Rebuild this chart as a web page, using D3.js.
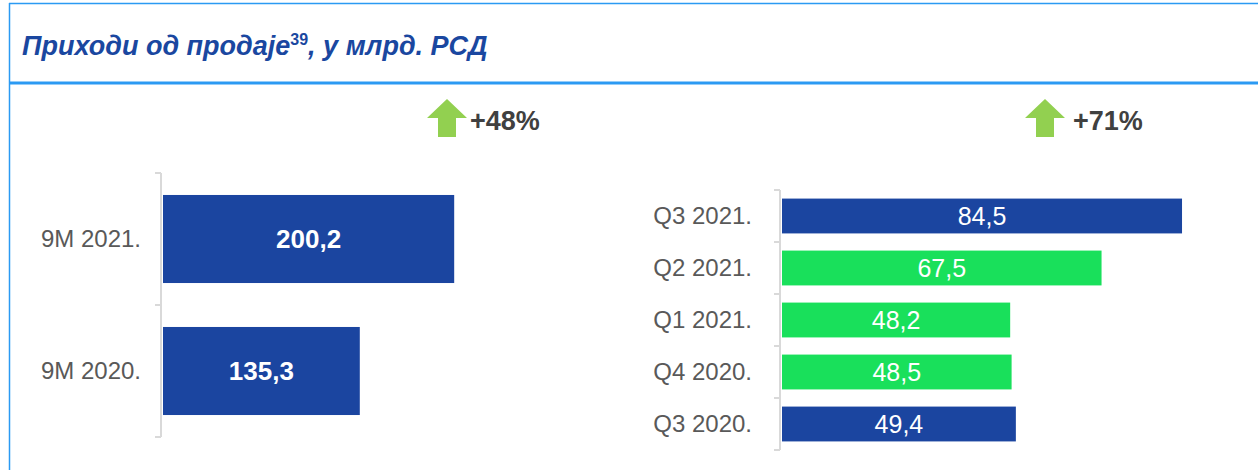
<!DOCTYPE html>
<html>
<head>
<meta charset="utf-8">
<script src="https://cdn.jsdelivr.net/npm/d3@7"></script>
<style>
  body { margin: 0; background: #fff; }
  svg { display: block; font-family: "Liberation Sans", Arial, sans-serif; }
</style>
</head>
<body>
<svg id="chart" width="1258" height="470"></svg>
<script>
// podaci
const titleMain = "Приходи од продаје";
const titleSup = "39";
const titleRest = ", у млрд. РСД";

const ytdCats = ["9M 2021.", "9M 2020."];
const ytdValues = [200.2, 135.3];
const ytdGrowth = "+48%";

const qCats = ["Q3 2021.", "Q2 2021.", "Q1 2021.", "Q4 2020.", "Q3 2020."];
const qValues = [84.5, 67.5, 48.2, 48.5, 49.4];
const qHighlight = [true, false, false, false, true];
const qGrowth = "+71%";

const BLUE = "#1b45a0";
const GREEN = "#19e05b";
const ARROW = "#92d050";
const FRAME = "#2b9af3";
const fmt = v => String(v).replace(".", ",");

const svg = d3.select("#chart");

// okvir
svg.append("line").attr("x1", 9).attr("x2", 1258).attr("y1", 3.5).attr("y2", 3.5)
  .attr("stroke", FRAME).attr("stroke-width", 1.5);
svg.append("line").attr("x1", 9.5).attr("x2", 9.5).attr("y1", 3).attr("y2", 470)
  .attr("stroke", FRAME).attr("stroke-width", 1.5);
svg.append("line").attr("x1", 9).attr("x2", 1258).attr("y1", 83).attr("y2", 83)
  .attr("stroke", FRAME).attr("stroke-width", 3);

// naslov
const title = svg.append("text")
  .attr("x", 22).attr("y", 55)
  .attr("fill", "#1a47a0")
  .style("font-size", "27px").style("font-weight", "bold").style("font-style", "italic");
title.append("tspan").text(titleMain);
title.append("tspan").attr("dy", -10).style("font-size", "16px").style("font-style", "normal").text(titleSup);
title.append("tspan").attr("dy", 10).text(titleRest);

// strelica + procenat
function growthBadge(x, y, label, tx) {
  const g = svg.append("g").attr("transform", `translate(${x},${y})`);
  g.append("path")
    .attr("d", "M0,19 L20,0 L40,19 L29,19 L29,38 L11,38 L11,19 Z")
    .attr("fill", ARROW);
  g.append("text").attr("x", tx).attr("y", 31)
    .attr("fill", "#404040")
    .style("font-size", "27px").style("font-weight", "bold")
    .text(label);
}

// horizontalni bar chart
function barChart(opts) {
  const { cats, values, colors, x0, top, bottom, k, labelSize, valueSize, valueWeight, padding, labelX } = opts;
  const y = d3.scaleBand().domain(cats).range([top, bottom]).paddingInner(padding).paddingOuter(padding / 2);
  const x = d3.scaleLinear().domain([0, 1]).range([x0 + 2, x0 + 2 + k]);
  const g = svg.append("g");

  // osa sa tickovima izmedju kategorija
  const edges = d3.range(cats.length + 1).map(i => top + i * (bottom - top) / cats.length);
  g.append("line").attr("x1", x0).attr("x2", x0).attr("y1", top).attr("y2", bottom)
    .attr("stroke", "#d9d9d9").attr("stroke-width", 2);
  g.selectAll(".tk").data(edges).enter().append("line")
    .attr("x1", x0 - 6).attr("x2", x0).attr("y1", d => d).attr("y2", d => d)
    .attr("stroke", "#d9d9d9").attr("stroke-width", 2);

  g.selectAll("rect").data(cats).enter().append("rect")
    .attr("x", x(0))
    .attr("y", d => y(d))
    .attr("width", (d, i) => x(values[i]) - x(0))
    .attr("height", y.bandwidth())
    .attr("fill", (d, i) => colors[i]);

  g.selectAll(".cat").data(cats).enter().append("text")
    .attr("x", labelX).attr("y", d => y(d) + y.bandwidth() / 2)
    .attr("dy", "0.35em").attr("text-anchor", "end")
    .attr("fill", "#595959").style("font-size", labelSize + "px")
    .text(d => d);

  g.selectAll(".val").data(cats).enter().append("text")
    .attr("x", (d, i) => (x(0) + x(values[i])) / 2)
    .attr("y", d => y(d) + y.bandwidth() / 2)
    .attr("dy", "0.35em").attr("text-anchor", "middle")
    .attr("fill", "#fff").style("font-size", valueSize + "px").style("font-weight", valueWeight)
    .text((d, i) => fmt(values[i]));
}

barChart({
  cats: ytdCats, values: ytdValues, colors: ytdCats.map(() => BLUE),
  x0: 161, top: 173, bottom: 437, k: 1.4545, padding: 0.333,
  labelSize: 24, valueSize: 26, valueWeight: "bold", labelX: 141
});
barChart({
  cats: qCats, values: qValues, colors: qHighlight.map(h => h ? BLUE : GREEN),
  x0: 780, top: 190, bottom: 450, k: 4.734, padding: 0.33,
  labelSize: 24, valueSize: 25, valueWeight: "normal", labelX: 752
});

growthBadge(427, 99, ytdGrowth, 43);
growthBadge(1025, 99, qGrowth, 48);
</script>
</body>
</html>
